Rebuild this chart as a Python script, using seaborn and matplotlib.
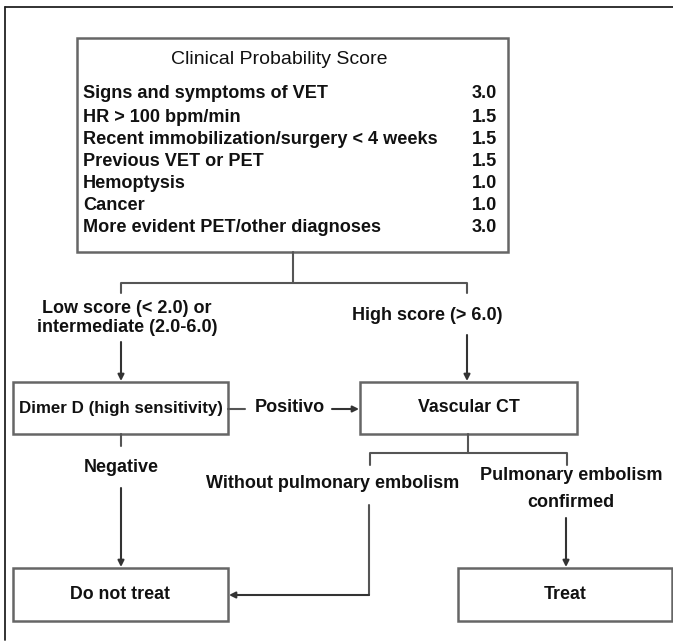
import numpy as np
import pandas as pd
import matplotlib.pyplot as plt
import matplotlib.patches as patches
import seaborn as sns

# Score table
criteria = [
    "Signs and symptoms of VET",
    "HR > 100 bpm/min",
    "Recent immobilization/surgery < 4 weeks",
    "Previous VET or PET",
    "Hemoptysis",
    "Cancer",
    "More evident PET/other diagnoses",
]
points = [3.0, 1.5, 1.5, 1.5, 1.0, 1.0, 3.0]
title = "Clinical Probability Score"

# Flow boxes and branch labels
box_labels = ["Dimer D (high sensitivity)", "Vascular CT", "Do not treat", "Treat"]
branch_labels = [
    "Low score (< 2.0) or\nintermediate (2.0-6.0)",
    "High score (> 6.0)",
    "Positivo",
    "Negative",
    "Without pulmonary embolism",
    "Pulmonary embolism\nconfirmed",
]

# layout (pixels, y downwards)
W, H = 673, 643
box_rects = [(13, 382, 215, 52), (360, 382, 217, 52), (13, 568, 215, 53), (458, 568, 214, 53)]
box_fs = [12.2, 12.8, 12.8, 12.8]
branch_pos = [(127, 318), (427, 315), (290, 408), (121, 468), (333, 483), (571, 489)]
branch_ls = [1.15, 1.2, 1.2, 1.2, 1.2, 1.75]
row_y = [94, 117, 139, 162, 183, 206, 228]

sns.set_style("white")
plt.rcParams["font.family"] = ["Liberation Sans", "DejaVu Sans"]

fig = plt.figure(figsize=(W / 100, H / 100), dpi=100)
ax = fig.add_axes([0, 0, 1, 1])
ax.set_xlim(0, W)
ax.set_ylim(H, 0)
ax.axis("off")

line_col = "#555555"
txt_col = "#111111"

# outer frame (top and left only)
ax.plot([5, W], [7, 7], color="#222222", lw=1.3)
ax.plot([5, 5], [7, 640], color="#222222", lw=1.3)

# score box
ax.add_patch(patches.Rectangle((77, 38), 431, 214, fill=False, ec="#666666", lw=1.8))
ax.text(279, 60, title, ha="center", va="center", fontsize=14, color=txt_col)
for name, p, y in zip(criteria, points, row_y):
    ax.text(83, y, name, ha="left", va="center", fontsize=13.1, fontweight="bold", color=txt_col)
    ax.text(497, y, f"{p:.1f}", ha="right", va="center", fontsize=13.1, fontweight="bold", color=txt_col)

# flow boxes
for lab, (x, y, w, h), f in zip(box_labels, box_rects, box_fs):
    ax.add_patch(patches.Rectangle((x, y), w, h, fill=False, ec="#666666", lw=1.8))
    ax.text(x + w / 2, y + h / 2, lab, ha="center", va="center", fontsize=f,
            fontweight="bold", color=txt_col)

for lab, (x, y), ls in zip(branch_labels, branch_pos, branch_ls):
    ax.text(x, y, lab, ha="center", va="center", fontsize=13, fontweight="bold",
            color=txt_col, linespacing=ls)

# connector segments drawn with seaborn
segs = [
    [(293, 252), (293, 283)],
    [(121, 293), (121, 283), (467, 283), (467, 293)],
    [(228, 409), (245, 409)],
    [(121, 434), (121, 446)],
    [(468, 434), (468, 453)],
    [(370, 465), (370, 453), (567, 453), (567, 465)],
    [(369, 505), (369, 595)],
]
rows = []
for i, s in enumerate(segs):
    for j, (x, y) in enumerate(s):
        rows.append({"seg": i, "order": j, "x": x, "y": y})
seg_df = pd.DataFrame(rows)
sns.lineplot(data=seg_df, x="x", y="y", units="seg", estimator=None, sort=False,
             color=line_col, lw=1.5, ax=ax, legend=False)

# arrows
arrows = [
    ((121, 342), (121, 381)),
    ((467, 335), (467, 381)),
    ((332, 409), (359, 409)),
    ((121, 488), (121, 567)),
    ((369, 595), (229, 595)),
    ((566, 518), (566, 567)),
]
for start, end in arrows:
    ax.annotate("", xy=end, xytext=start,
                arrowprops=dict(arrowstyle="-|>", color="#333333", lw=1.5,
                                mutation_scale=9, shrinkA=0, shrinkB=0))

fig.savefig("out.png", dpi=100)
